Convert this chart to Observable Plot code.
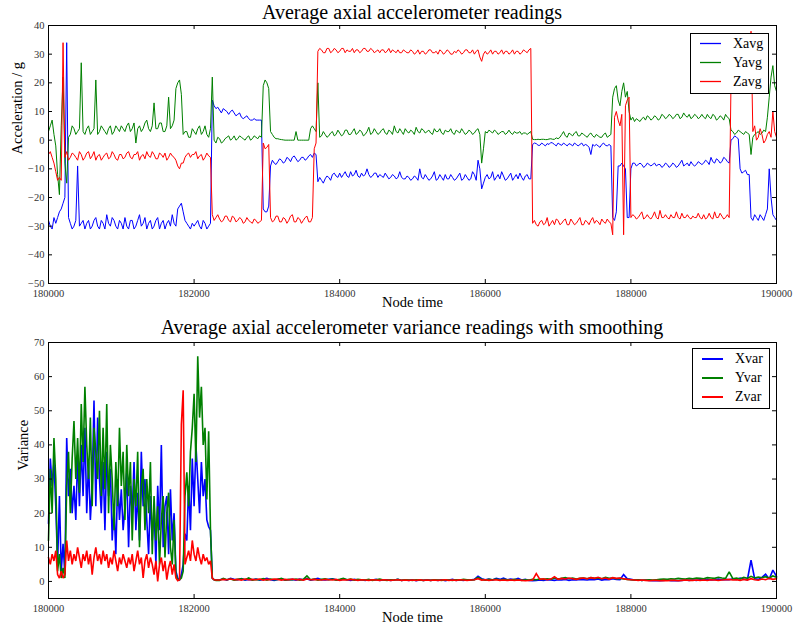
<!DOCTYPE html>
<html><head><meta charset="utf-8">
<script src="https://cdn.jsdelivr.net/npm/d3@7"></script>
<script src="https://cdn.jsdelivr.net/npm/@observablehq/plot@0.6"></script>
<style>
body{margin:0;background:#fff;}
#fig{position:relative;width:794px;height:632px;font-family:"Liberation Serif",serif;overflow:hidden;background:#fff;}
#fig > svg{position:absolute;left:0;}
.title{position:absolute;left:48px;width:728px;text-align:center;font-size:20px;line-height:22px;color:#000;white-space:nowrap;}
.legend{position:absolute;background:#fff;border:1px solid #000;box-sizing:border-box;}
.legend svg{position:absolute;left:0;top:0;}
.legend .lb{position:absolute;left:42px;font-size:14px;line-height:16px;color:#000;}
</style></head>
<body><div id="fig"></div>
<script>
// ---- data: top panel (average readings), samples at 50-unit steps plus the in-between readings ----
const avgTime = d3.range(180000, 190001, 50);
const avgMidTime = d3.range(180025, 190000, 50);
const xavg = [
 -28,-31,-29,-25,-22,34,-29,-30,-9,-29,-31,-28,-30,-27,-31,-29,-26,-30,-28,-31,
 -29,-27,-31,-28,-30,-26,-29,-31,-28,-30,-27,-29,-31,-28,-26,-30,-23,-25,-29,-31,
 -30,-28,-31,-29,-30,14,11,10.5,11,10,10,9.5,9,8,8,7.5,7,7,7,-24,
 -25,-9,-8,-7.5,-7,-7.5,-6.5,-6,-6.5,-7,-6,-6.5,-5,-4.5,-14.5,-14,-13.5,-13,-12,-12.5,
 -11.5,-12,-12.5,-11,-12,-12.5,-11.5,-12,-12,-12.5,-11.5,-12,-13,-12.5,-13,-12.5,-13,-13,-13.5,-13,
 -13.5,-13,-10,-13.5,-13,-13.5,-11,-13.5,-13,-12,-13.5,-13,-13.5,-11.5,-13.5,-13,-13.5,-12,-7,-17,
 -13,-13.5,-11,-13,-13.5,-12.5,-13.5,-11.5,-13,-13.5,-13,-12.5,-13.5,-1.5,-1.2,-1.8,-1.5,-1.2,-0.8,-1.5,
 -1,-1.8,-1.5,-1.2,-2,-1.5,-1.5,-2,-1.8,-5,-2,-2,-1.5,-1.8,-1.5,-27,-25,-9,-9,-27,
 -10,-8,-8.5,-8.5,-9,-8.5,-8.5,-9,-8.5,-9,-8.5,-9,-8.5,-9,-7,-8.5,-9,-8.5,-8.5,-8,
 -8,-7.5,-6,-8,-7,-7.5,-6.5,-8,0.5,1,-10,-11,-12,-27,-26,-28,-27,-26,-10,-26,
 -28];
const xavgMid = [
 -30,-27,-27,-24,-20,-27,-31,-28,-30,-28,-29,-31,-28,-30,-28,-31,-29,-27,-30,-28,
 -31,-30,-28,-31,-28,-30,-27,-29,-31,-28,-31,-28,-29,-30,-29,-24,-22,-28,-30,-29,
 -29,-30,-28,-31,-29,12,11.5,9.5,10.5,9,10.5,8.5,9.5,7.5,8.5,7,7.5,7,7,-25,
 -23,-7,-8.5,-6.5,-8,-6,-7.5,-5.5,-7.5,-6,-7,-5.5,-6,-5,-13,-15,-12.5,-14,-11.5,-13,
 -13,-11,-13,-12.5,-10.5,-13,-12.5,-10,-13,-11.5,-13,-12.5,-11.5,-13.5,-12,-13.5,-11,-13.5,-12.5,-14,
 -12.5,-14,-13,-12,-14,-12.5,-14,-12,-14,-13.5,-12,-14,-12.5,-14,-12,-14,-11,-14,-10,-15,
 -12,-13,-14,-12,-11,-14,-12.5,-14,-12,-11.5,-14,-12,-13.5,-1,-1.8,-1,-2,-1.5,-1,-2,
 -1.5,-1,-2,-1.5,-1,-2,-1,-1.5,-2.5,-1.5,-1.5,-2.5,-1,-2,-2,-28,-9,-8,-10,-27,
 -8,-9,-8,-9.5,-8,-9,-8,-8.5,-9.5,-8,-9.5,-8,-9.5,-8,-9,-8,-7.5,-9,-7.5,-8.5,
 -7,-8.5,-7.5,-6.5,-8,-6,-7.5,0,1.5,0.5,-11.5,-10.5,-12,-28,-27,-26,-28,-24,-20,-27];
const yavg = [
 3,7,-2,-19,22,-15,2,4,3,27,2,5,3,21,3,4,2,5,3,4,
 5,3,6,4,-1,5,4,7,3,13,4,6,3,15,5,18,21,2,3,1,
 3,4,2,5,1,22,-1,0.5,-0.5,1,0,1.5,0.5,1,0,1.5,0.5,1,1.5,19,
 20,3,1,0.5,0.2,0,0,0,3,0,0,0,4,4,20,1.5,2,1.5,3,2,
 2.5,2,3.5,2,4,2.5,3,2,4.5,2.5,3,2.5,4,2,3,5,2.5,3,4,2.5,
 3,4.5,2.5,3.5,3,2.5,4,3,2.5,3.5,3,2.5,3.5,2.5,3,2.5,3,2.5,4,-8,
 3,3.5,2.5,3,2.5,3,2.5,2.5,3,2.5,2,2.5,2.5,0.3,0.2,0.2,0.3,0.2,0.5,0.3,
 0.5,2,1.5,2.5,1.5,3,1.5,2,1,2.5,1,1.5,1,2.5,1.5,15,19,12,20,17,
 7,6.5,7,7.5,7,8,7.5,8,7.5,8.5,8,8.5,8,9,8,8.5,9,8,8.5,8,
 8,9,7.5,8.5,7.5,8,9,7.5,3,2.5,3,2,2.5,-5,2,3,2.5,3,15,26,
 17];
const yavgMid = [
 5,2,-12,5,-8,1,5,2,4,3,4,2,4,2,5,3,4,2,5,3,
 4,5,3,6,4,3,6,4,5,4,6,3,5,4,7,20,16,3,1,4,
 2,5,3,2,4,0,1,-1,0.5,1.5,0.5,0,1.5,0.5,1,0,1.5,0.5,1,21,
 18,2,0.5,0.3,0.1,0,0,0,0,0,0,0,5,3,1,3,1,2.5,1.5,3.5,
 1.5,3.5,2,3,2,3.5,1.5,3,2,4,2,3.5,2.5,3.5,2,3,4,2,3,3.5,
 2,3,4,2.5,3.5,2,3,4,2,3,4,2,3,4,2,3.5,2,3.5,2,-3,
 2.5,3,3.5,2,3,2,3.5,2,2.5,3,2.5,2,3,0.2,0.3,0.3,0.2,0.4,0.3,0.8,
 1,3,1,2,2.5,1.5,2.5,1.5,2,1.5,2,1,2,1,2,18,14,17,15,10,
 8,7.5,6.5,8,8.5,7,8.5,7,9,7.5,9,7.5,9,7.5,9.5,8,7.5,9,7.5,9,
 7.5,8,9,7,8.5,7,8,3.5,2,3.5,2.5,3,2,1,2.5,2,3.5,8,22,19];
const zavg = [
 -5,-6,-11,-13,34,-4,-6,-5,-7,-5,-6,-4,-5.5,-7,-5,-6,-4.5,-6,-5,-7,
 -5,-6,-4,-6.5,-5,-7,-5,-4,-6,-5,-6.5,-5,-4.5,-6,-5.5,-7,-10,-8,-5,-6,
 -5,-6.5,-5,-6,-5.5,-26,-27,-27.5,-28,-26.5,-28.5,-27,-28,-27.5,-28.5,-28,-29,-28,-28.5,-1,
 -2.5,-27,-28,-26.5,-28.5,-27.5,-28,-26,-28.5,-27.5,-28,-26.5,-28.5,-3,31,31.5,30.5,32,31,31.5,
 31,32,31.5,31,30.5,31.5,31,32,31,31.5,31,30.5,31.5,31,30.5,31,31.5,30.5,31,30.5,
 31,30.5,30,31,30.5,31.5,30.5,30,31,30.5,31,30,30.5,31,30.5,31.5,30.5,30,31.5,27.5,
 31,30.5,30,31,30.5,30,31,30.5,30,31,30.5,31,31.5,-29,-29.5,-28.5,-29.5,-27,-29,-29.5,
 -28,-29,-27.5,-29.5,-28.5,-29,-27,-29.5,-28.5,-28,-29,-28.5,-27.5,-29,-28.5,-33,10,5,-33,14,
 -27,-26.5,-27,-25,-27,-27,-26.5,-27,-24.5,-27,-27,-26,-27,-27,-25.5,-27,-27,-26.5,-27,-27,
 -26,-27,-27,-25,-27,-26.5,-27,-27,22,20,23,21,22,38,5,1,2,0,3,10,
 1];
const zavgMid = [
 -4,-8,-14,-14,-6,-7,-4.5,-6,-4,-7,-4.5,-6.5,-4,-5.5,-7,-5,-6.5,-4,-6.5,-5,
 -6.5,-4.5,-6,-5,-4,-5.5,-6.5,-5.5,-4,-6.5,-4.5,-6,-7,-4.5,-6,-9,-8,-6,-4.5,-5,
 -4,-5.5,-7,-4.5,-6,-28,-26,-28.5,-26.5,-28,-26.5,-28.5,-27,-29,-27,-28.5,-27.5,-29,-28,-3,
 -1.5,-28.5,-26.5,-28.5,-27,-29,-26.5,-28.5,-27,-29,-27,-28.5,-27,-1,32,30.5,32,30.5,32,30.5,
 32,30.5,31,32,31.5,30.5,32,31,32,30.5,31.5,31.5,30.5,32,31.5,30.5,30.5,31.5,30.5,31.5,
 30,31.5,31,30,31.5,30.5,31,31.5,30,31.5,30,31,31.5,30,31.5,30.5,31.5,31,29,30,
 30,31.5,31,30,31.5,31,30,31.5,31,30,31.5,30.5,32,-28,-30,-28,-29,-30,-28,-27.5,
 -29.5,-28,-29.5,-27.5,-29.5,-28,-29.5,-28,-29.5,-27,-28,-29.5,-28.5,-27.5,-29,8,7,9,12,15,
 -26,-27.5,-26,-27.5,-26,-27.5,-25,-27.5,-27,-26,-27.5,-27,-25,-27.5,-27,-26,-27.5,-27,-25.5,-27.5,
 -27.5,-25.5,-27.5,-27,-25.5,-27.5,-26,20,24,19,22,20,23,3,0,4,-1,2,1,3];

// ---- data: bottom panel (smoothed variance) ----
const varTimeEarly = d3.range(180000, 182301, 25);   // 93 samples
const varTimeLate = d3.range(182350, 190001, 50);    // 154 samples
const xvarEarly = [
 17,36,28,35,22,5,25,3,11,2, 42,25,33,20,28,18,37,22,40,25,
 45,20,35,18,28,53,22,48,30,20, 35,15,38,25,33,12,22,8,30,18,
 27,15,22,32,10,28,20,35,15,26, 12,38,22,30,18,8,25,12,22,5,
 28,15,40,10,22,25,8,27,12,20, 3,1,0.5,2,5,14,12,28,15,36,
 22,40,30,20,35,25,30,18,16,15, 1,0.5,0.4];
const yvarEarly = [
 12,33,20,42,30,3,8,1,4,1, 28,38,20,36,47,30,42,26,52,35,
 57,40,30,48,22,45,38,30,50,25, 45,27,52,20,40,30,15,35,22,45,
 28,38,18,40,25,35,12,30,22,38, 10,28,33,15,30,20,35,8,25,12,
 22,5,18,25,7,20,26,10,5,18, 2,0.5,0.5,1,3,25,32,22,38,45,
 55,35,66,48,57,40,45,24,44,15, 1,0.5,0.3];
const zvarEarly = [
 7,5,8,6,9,2,1,3,1,2, 12,6,9,5,8,6,10,7,4,8,
 6,9,5,8,2,7,10,6,8,5, 9,6,8,4,7,5,9,6,3,7,
 5,8,6,4,7,5,8,3,6,9, 5,7,1,6,8,4,7,5,2,6,
 0,5,7,3,6,0.5,4,6,2,5, 1,0.2,0.5,46,56,5,7,9,6,12,
 8,6,10,7,5,8,6,7,5,6, 1,0.5,0.4];
const xvarLate = [
 0.5,0.7,0.4,0.9,0.6,0.5,0.8,0.4,0.6,0.5, 0.7,0.4,0.6,0.9,0.5,0.3,0.6,0.8,0.4,0.5,
 0.6,0.4,0.7,0.5,0.8,0.4,0.6,0.9,0.5,0.4, 0.6,0.8,0.5,0.4,0.7,0.5,0.3,0.6,0.4,0.5,
 0.3,0.5,0.4,0.6,0.3,0.4,0.5,0.3,0.4,0.6, 0.3,0.4,0.3,0.5,0.2,0.4,0.3,0.5,0.3,0.4,
 0.3,0.5,0.2,0.4,0.6,0.3,0.4,0.3,0.5,0.4, 0.6,1.5,0.8,0.5,0.7,0.4,0.9,0.6,1.0,0.5,
 0.7,0.5,0.9,0.4,0.6,0.3,0.2,0.3,0.4,0.3, 0.5,0.4,0.3,0.5,0.4,0.6,0.3,0.5,0.4,0.6,
 0.5,0.4,0.6,0.5,0.7,0.4,0.6,0.5,0.8,0.6, 0.5,2.0,0.8,0.6,0.4,0.5,0.3,0.4,0.3,0.2,
 0.3,0.2,0.3,0.4,0.2,0.3,0.2,0.3,0.4,0.3, 0.4,0.3,0.5,0.4,0.6,0.4,0.5,0.7,0.5,0.6,
 0.5,0.8,0.6,1.0,0.7,0.5,6.2,0.8,0.6,1.2, 2.1,0.7,3.3,1.5];
const yvarLate = [
 0.3,0.9,0.5,0.7,0.4,0.6,0.8,0.5,1.0,0.4, 0.6,0.5,0.8,0.4,0.7,0.5,0.6,0.9,0.4,0.6,
 0.5,0.7,0.4,0.6,1.6,0.5,0.7,0.4,0.6,0.8, 0.5,0.7,0.4,0.6,0.9,0.5,0.7,0.4,0.6,0.5,
 0.4,0.6,0.3,0.5,0.7,0.4,0.3,0.5,0.4,0.6, 0.3,0.5,0.4,0.3,0.5,0.4,0.3,0.4,0.3,0.5,
 0.4,0.3,0.5,0.4,0.3,0.5,0.4,0.6,0.5,0.4, 0.5,1.2,0.6,0.4,0.6,0.5,0.7,0.4,0.6,0.5,
 0.4,0.6,0.5,0.3,0.5,0.4,0.6,0.5,0.7,0.6, 0.8,0.6,1.0,0.7,0.9,1.1,0.8,1.0,0.7,0.9,
 1.0,0.8,1.1,0.9,1.0,0.8,1.2,0.9,1.0,0.8, 0.9,0.7,0.6,0.5,0.4,0.5,0.3,0.4,0.5,0.4,
 0.5,0.6,0.7,0.6,0.8,0.7,0.9,0.8,0.7,0.9, 0.8,1.0,0.9,0.8,1.1,1.0,0.9,1.2,1.0,0.9,
 2.8,0.8,1.0,0.7,1.2,0.9,1.5,1.0,1.3,1.1, 1.4,1.0,1.6,1.2];
const zvarLate = [
 0.4,0.6,0.5,0.7,0.5,0.6,0.4,0.7,0.5,0.6, 0.5,0.7,0.4,0.6,0.5,0.7,0.6,0.4,0.6,0.5,
 0.7,0.5,0.6,0.4,0.7,0.5,0.6,0.5,0.4,0.6, 0.5,0.4,0.6,0.3,0.5,0.4,0.6,0.5,0.3,0.5,
 0.4,0.3,0.5,0.4,0.3,0.5,0.4,0.3,0.4,0.5, 0.3,0.4,0.3,0.4,0.3,0.5,0.3,0.4,0.3,0.4,
 0.3,0.4,0.5,0.3,0.4,0.3,0.5,0.4,0.3,0.4, 0.5,0.8,0.4,0.5,0.3,0.4,0.5,0.3,0.4,0.3,
 0.4,0.3,0.4,0.3,0.2,0.3,0.4,2.3,0.6,0.8, 0.5,0.7,1.4,0.6,0.9,0.7,1.0,0.8,0.6,0.9,
 1.0,0.8,1.1,0.9,1.2,0.8,1.0,0.7,1.1,0.9, 1.0,0.8,0.6,0.5,0.4,0.3,0.4,0.3,0.2,0.3,
 0.3,0.2,0.3,0.2,0.3,0.3,0.2,0.3,0.4,0.3, 0.3,0.4,0.3,0.4,0.3,0.5,0.4,0.3,0.4,0.5,
 0.6,0.4,0.5,0.3,0.6,0.4,0.8,0.5,0.4,0.7, 0.5,0.9,0.6,0.8];

const xTicks = d3.range(180000, 190001, 2000);
const yTicksAvg = d3.range(-50, 41, 10);
const yTicksVar = d3.range(0, 71, 10);
const avgNames = ["Xavg", "Yavg", "Zavg"];
const varNames = ["Xvar", "Yvar", "Zvar"];
const colors = ["#0000ff", "#008000", "#ff0000"];

// ---- build ----
const FONT = '"Liberation Serif", serif';
const rows = (t, v) => t.map((x, i) => ({t: x, v: v[i]}));
const merged = (t1, v1, t2, v2) => rows(t1, v1).concat(rows(t2, v2)).sort((a, b) => a.t - b.t);
const varTime = varTimeEarly.concat(varTimeLate);

function panel({height, mt, mb, domain, yTicks, series, sw, ylabel, ylabelDx}) {
  const fh = height - mt - mb, fw = 794 - 48 - 18;
  return Plot.plot({
    width: 794, height, marginLeft: 48, marginRight: 18, marginTop: mt, marginBottom: mb,
    style: {fontFamily: FONT, background: "transparent", overflow: "visible"},
    x: {domain: [180000, 190000]},
    y: {domain},
    marks: [
      ...series.map((s, k) => Plot.line(s, {x: "t", y: "v", stroke: colors[k], strokeWidth: sw, strokeLinejoin: "miter", strokeMiterlimit: 2})),
      Plot.frame({stroke: "#000", strokeWidth: 1}),
      Plot.tickX(xTicks, {x: d => d, insetTop: fh - 4, stroke: "#000"}),
      Plot.tickX(xTicks, {x: d => d, insetBottom: fh - 4, stroke: "#000"}),
      Plot.tickY(yTicks, {y: d => d, insetRight: fw - 4, stroke: "#000"}),
      Plot.tickY(yTicks, {y: d => d, insetLeft: fw - 4, stroke: "#000"}),
      Plot.axisX({ticks: xTicks, tickSize: 0, tickPadding: 6, tickFormat: d => String(d), fontSize: 10.5, label: null, fill: "#333"}),
      Plot.axisY({ticks: yTicks, tickSize: 0, tickPadding: 4, fontSize: 10.5, label: null, fill: "#333"}),
      Plot.text([ylabel], {text: d => d, frameAnchor: "left", dx: ylabelDx, rotate: -90, fontSize: 14.5, fill: "#000"}),
      Plot.text(["Node time"], {text: d => d, frameAnchor: "bottom", dy: 23, fontSize: 14.5, fill: "#000"})
    ]
  });
}

const fig = document.getElementById("fig");

const top1 = panel({height: 316, mt: 25, mb: 33, domain: [-50, 40], yTicks: yTicksAvg,
  series: [merged(avgTime, xavg, avgMidTime, xavgMid), merged(avgTime, yavg, avgMidTime, yavgMid), merged(avgTime, zavg, avgMidTime, zavgMid)], sw: 1,
  ylabel: "Acceleration / g", ylabelDx: -31});
top1.style.top = "0px";
fig.appendChild(top1);

const bot = panel({height: 316, mt: 26, mb: 34, domain: [-5, 70], yTicks: yTicksVar,
  series: [rows(varTime, xvarEarly.concat(xvarLate)), rows(varTime, yvarEarly.concat(yvarLate)), rows(varTime, zvarEarly.concat(zvarLate))], sw: 1.6,
  ylabel: "Variance", ylabelDx: -25});
bot.style.top = "316px";
fig.appendChild(bot);

function title(text, top) {
  const d = document.createElement("div");
  d.className = "title"; d.textContent = text; d.style.top = top + "px";
  fig.appendChild(d);
}
title("Average axial accelerometer readings", 1);
title("Average axial accelerometer variance readings with smoothing", 316);

const SVGNS = "http://www.w3.org/2000/svg";
function legend(left, top, w, h, names, rowYs, lw) {
  const box = document.createElement("div");
  box.className = "legend";
  Object.assign(box.style, {left: left + "px", top: top + "px", width: w + "px", height: h + "px"});
  const svg = document.createElementNS(SVGNS, "svg");
  svg.setAttribute("width", w - 2); svg.setAttribute("height", h - 2);
  names.forEach((n, k) => {
    const ln = document.createElementNS(SVGNS, "line");
    ln.setAttribute("x1", 9); ln.setAttribute("x2", 30);
    ln.setAttribute("y1", rowYs[k]); ln.setAttribute("y2", rowYs[k]);
    ln.setAttribute("stroke", colors[k]); ln.setAttribute("stroke-width", lw);
    svg.appendChild(ln);
    const l = document.createElement("div");
    l.className = "lb"; l.textContent = n;
    l.style.top = (rowYs[k] - 8) + "px";
    box.appendChild(l);
  });
  box.appendChild(svg);
  fig.appendChild(box);
}
legend(690, 33, 79, 61, avgNames, [9.5, 28.5, 47.5], 1.3);
legend(692, 348, 78, 61, varNames, [10, 29, 48], 2);
</script>
</body></html>
